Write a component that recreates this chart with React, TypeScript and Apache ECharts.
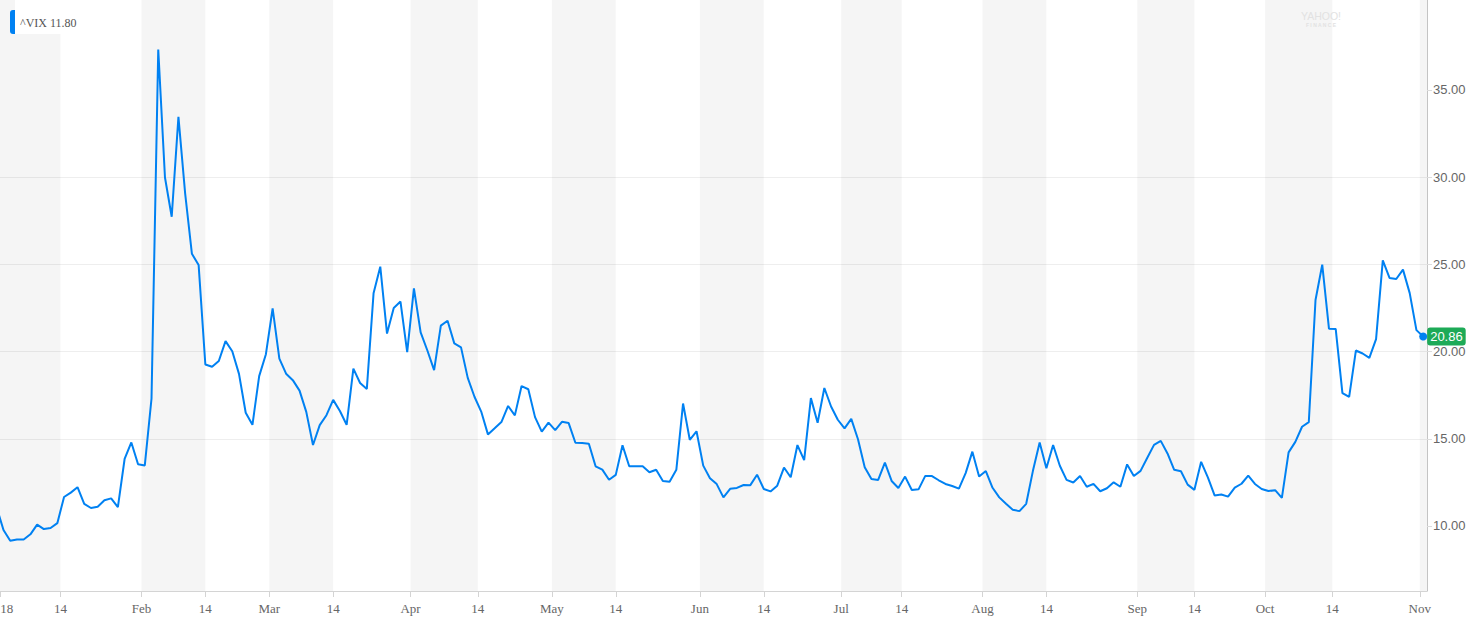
import React, { useEffect, useRef } from "react";
import * as echarts from "echarts";

// VIX daily closes, Dec 29 2017 -> Nov 1 2018 (one value per trading day)
const dec2017 = [11.04];
const jan = [9.77, 9.15, 9.22, 9.22, 9.52, 10.08, 9.82, 9.88, 10.16, 11.66, 11.91, 12.22, 11.27, 11.03, 11.1, 11.47, 11.58, 11.08, 13.84, 14.79, 13.54];
const feb = [13.47, 17.31, 37.32, 29.98, 27.73, 33.46, 29.06, 25.61, 24.97, 19.26, 19.13, 19.46, 20.6, 20.02, 18.72, 16.49, 15.8, 18.59, 19.85];
const mar = [22.47, 19.59, 18.73, 18.36, 17.76, 16.54, 14.64, 15.78, 16.35, 17.23, 16.59, 15.8, 19.02, 18.2, 17.86, 23.34, 24.87, 21.03, 22.5, 22.87, 19.97];
const apr = [23.62, 21.1, 20.06, 18.94, 21.49, 21.77, 20.47, 20.24, 18.49, 17.41, 16.56, 15.25, 15.6, 15.96, 16.88, 16.34, 18.02, 17.84, 16.24, 15.41, 15.93];
const may = [15.49, 15.97, 15.9, 14.77, 14.75, 14.71, 13.42, 13.23, 12.65, 12.93, 14.63, 13.42, 13.43, 13.42, 13.08, 13.22, 12.58, 12.53, 13.22, 17.02, 14.94, 15.43];
const jun = [13.46, 12.74, 12.4, 11.64, 12.13, 12.18, 12.35, 12.34, 12.94, 12.12, 11.98, 12.31, 13.35, 12.79, 14.64, 13.77, 17.33, 15.92, 17.91, 16.85, 16.09];
const jul = [15.6, 16.14, 14.97, 13.37, 12.69, 12.64, 13.63, 12.58, 12.18, 12.83, 12.06, 12.1, 12.87, 12.86, 12.62, 12.41, 12.29, 12.14, 13.03, 14.26, 12.83];
const aug = [13.15, 12.19, 11.64, 11.27, 10.93, 10.85, 11.27, 13.16, 14.78, 13.31, 14.64, 13.45, 12.64, 12.49, 12.86, 12.25, 12.41, 11.99, 12.16, 12.5, 12.25, 13.53, 12.86];
const sep = [13.16, 13.91, 14.65, 14.88, 14.16, 13.22, 13.14, 12.37, 12.07, 13.68, 12.79, 11.75, 11.8, 11.68, 12.2, 12.42, 12.89, 12.41, 12.12];
const oct = [12.0, 12.05, 11.61, 14.22, 14.82, 15.69, 15.95, 22.96, 24.98, 21.31, 21.3, 17.62, 17.4, 20.06, 19.89, 19.64, 20.71, 25.23, 24.22, 24.16, 24.7, 23.35, 21.23];
const nov = [20.86];

// x axis: trading-day index (0 = Jan 2 2018); tick positions & labels
const xTickPositions = [-0.5, 8.47, 20.5, 30, 39.5, 49, 60.5, 70.5, 81.5, 91, 103.5, 113, 124.5, 133.5, 145.5, 155, 168.5, 177, 187.5, 197.5, 210.5];
const xTickLabels = ["18", "14", "Feb", "14", "Mar", "14", "Apr", "14", "May", "14", "Jun", "14", "Jul", "14", "Aug", "14", "Sep", "14", "Oct", "14", "Nov"];
const xMin = -0.52;
const xMax = 211.57;

// y axis
const yTickValues = [10, 15, 20, 25, 30, 35];
const yMin = 6.27;
const yMax = 40.16;

const legendText = "^VIX 11.80";

const LINE_COLOR = "#0081f2";

export default function App() {
  const ref = useRef<HTMLDivElement>(null);

  useEffect(() => {
    if (!ref.current) return;
    const chart = echarts.init(ref.current, undefined, { renderer: "svg" });

    const allValues = [...dec2017, ...jan, ...feb, ...mar, ...apr, ...may, ...jun, ...jul, ...aug, ...sep, ...oct, ...nov];
    const offset = dec2017.length;
    const data: any[] = allValues.map((v, k) => [k - offset, v]);
    const last = data.length - 1;
    data[last] = {
      value: data[last],
      symbol: "circle",
      symbolSize: 8,
      itemStyle: { color: LINE_COLOR },
      label: {
        show: true,
        position: "right",
        distance: 0,
        formatter: (p: any) => Number(p.value[1]).toFixed(2),
        backgroundColor: "#1daa57",
        color: "#ffffff",
        fontSize: 13,
        fontFamily: "'Liberation Sans', Arial, sans-serif",
        padding: [3, 3, 2, 3],
        borderRadius: 3,
      },
    };

    // shaded bands: month start tick -> "14" tick
    const bands: any[] = [];
    for (let i = 0; i < xTickPositions.length; i += 2) {
      const a = i === 0 ? xMin : xTickPositions[i];
      const b = i + 1 < xTickPositions.length ? xTickPositions[i + 1] : xMax;
      bands.push([{ xAxis: a }, { xAxis: b }]);
    }

    const labelFor = (v: number) => {
      for (let i = 0; i < xTickPositions.length; i++) {
        if (Math.abs(xTickPositions[i] - v) < 1e-6) {
          return i === 0 ? "{first|" + xTickLabels[i] + "}" : xTickLabels[i];
        }
      }
      return "";
    };

    const serif = "'Liberation Serif', 'Times New Roman', serif";

    chart.setOption({
      animation: false,
      grid: { left: 0, top: 0, right: 55, bottom: 30, containLabel: false, outerBoundsMode: "none" },
      xAxis: {
        type: "value",
        min: xMin,
        max: xMax,
        axisLine: { show: true, onZero: false, lineStyle: { color: "#d4d4d4", width: 1 } },
        axisTick: { show: true, length: 6, customValues: xTickPositions, lineStyle: { color: "#d4d4d4" } },
        axisLabel: {
          customValues: xTickPositions,
          formatter: (v: number) => labelFor(v),
          fontFamily: serif,
          fontSize: 13,
          color: "#666666",
          margin: 11,
          hideOverlap: false,
          rich: {
            first: { fontFamily: serif, fontSize: 13, color: "#666666", padding: [0, 0, 0, 13] },
          },
        },
        splitLine: { show: false },
      },
      yAxis: {
        type: "value",
        position: "right",
        min: yMin,
        max: yMax,
        minInterval: 5,
        maxInterval: 5,
        splitNumber: 7,
        axisLine: { show: true, onZero: false, lineStyle: { color: "#c4c4c4" } },
        axisTick: { show: true, length: 5, customValues: yTickValues, lineStyle: { color: "#dcdcdc" } },
        axisLabel: {
          customValues: yTickValues,
          formatter: (v: number) => v.toFixed(2),
          color: "#666666",
          fontSize: 13,
          fontFamily: "'Liberation Sans', Arial, sans-serif",
          margin: 6,
        },
        splitLine: { show: true, showMinLine: false, showMaxLine: false, lineStyle: { color: "#eeeeee", width: 1 } },
      },
      series: [
        {
          type: "line",
          data,
          symbol: "none",
          showSymbol: true,
          clip: true,
          lineStyle: { color: LINE_COLOR, width: 2 },
          itemStyle: { color: LINE_COLOR },
          emphasis: { disabled: true },
          label: { show: false },
          markArea: {
            silent: true,
            itemStyle: { color: "rgba(0,0,0,0.04)" },
            data: bands,
          },
        },
      ],
      graphic: [
        { type: "rect", z: 100, shape: { x: 15, y: 0, width: 66, height: 34 }, style: { fill: "#ffffff" } },
        { type: "rect", z: 101, shape: { x: 10, y: 10, width: 5, height: 24, r: [3, 0, 0, 3] }, style: { fill: LINE_COLOR } },
        {
          type: "text",
          z: 101,
          x: 20,
          y: 23,
          style: {
            text: legendText,
            fill: "#555555",
            font: "12px 'Liberation Serif', 'Times New Roman', serif",
            textVerticalAlign: "middle",
            verticalAlign: "middle",
          },
        },
        {
          type: "text",
          z: 100,
          x: 1321,
          y: 16,
          style: {
            text: "YAHOO!",
            fill: "#e2e2e2",
            font: "10.5px 'Liberation Sans', Arial, sans-serif",
            align: "center",
            textAlign: "center",
            verticalAlign: "middle",
            textVerticalAlign: "middle",
          },
        },
        {
          type: "text",
          z: 100,
          x: 1321,
          y: 25,
          style: {
            text: "F I N A N C E",
            fill: "#e2e2e2",
            font: "bold 5px 'Liberation Sans', Arial, sans-serif",
            align: "center",
            textAlign: "center",
            verticalAlign: "middle",
            textVerticalAlign: "middle",
          },
        },
      ],
    });

    return () => chart.dispose();
  }, []);

  return (
    <div
      ref={ref}
      style={{ position: "fixed", left: 0, top: 0, width: 1482, height: 621, background: "#ffffff" }}
    />
  );
}
